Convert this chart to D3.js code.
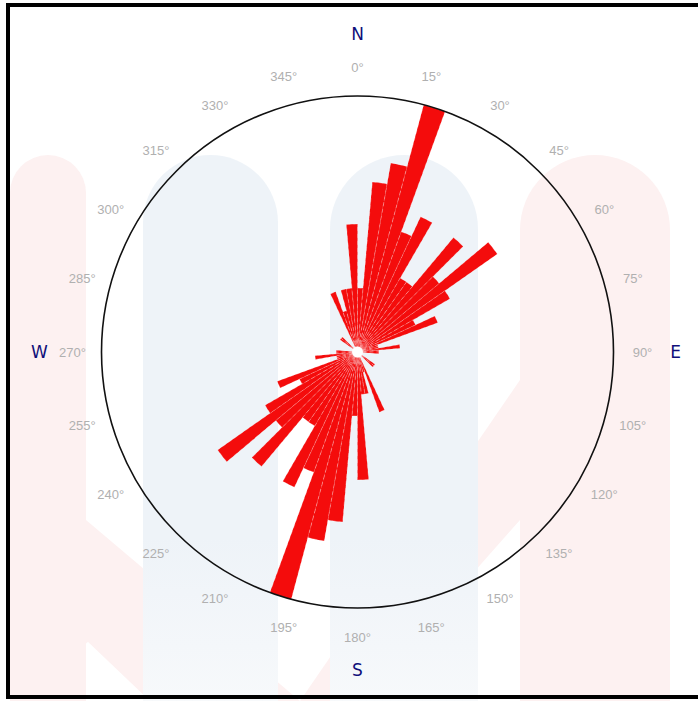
<!DOCTYPE html>
<html>
<head>
<meta charset="utf-8">
<script src="https://cdn.jsdelivr.net/npm/d3@7"></script>
<style>
  html, body { margin: 0; padding: 0; background: #fff; }
  svg { display: block; }
</style>
</head>
<body>
<svg id="chart" width="698" height="701"></svg>
<script>
// Azimuth bins (start of each 5° sector, clockwise from north)
const binStarts = [
  0, 5, 10, 15, 20, 25, 30, 35, 40, 45, 50, 55,
  60, 65, 70, 75, 80, 85, 90, 95, 100, 105, 110, 115,
  120, 125, 130, 135, 140, 145, 150, 155, 160, 165, 170, 175,
  180, 185, 190, 195, 200, 205, 210, 215, 220, 225, 230, 235,
  240, 245, 250, 255, 260, 265, 270, 275, 280, 285, 290, 295,
  300, 305, 310, 315, 320, 325, 330, 335, 340, 345, 350, 355
];
// Number of measurements in each sector
const counts = [
  3, 8, 9, 12, 6, 7, 4, 4, 7, 5, 8, 5,
  3, 4, 1, 1, 2, 1, 1, 0, 0, 0, 0, 0,
  0, 1, 1, 0, 0, 0, 0, 3, 1, 2, 2, 6,
  3, 8, 9, 12, 6, 7, 4, 4, 7, 5, 8, 5,
  3, 4, 1, 1, 2, 1, 1, 0, 0, 0, 0, 0,
  0, 1, 1, 0, 0, 0, 0, 3, 2, 3, 3, 6
];
const binWidth = 5;
const maxCount = 12;

// Compass ring labels
const degreeTicks = [0, 15, 30, 45, 60, 75, 90, 105, 120, 135, 150, 165,
                     180, 195, 210, 225, 240, 255, 270, 285, 300, 315, 330, 345];
const degreeLabels = ["0°", "15°", "30°", "45°", "60°", "75°", "90°", "105°", "120°", "135°", "150°", "165°",
                      "180°", "195°", "210°", "225°", "240°", "255°", "270°", "285°", "300°", "315°", "330°", "345°"];
const cardinalAngles = [0, 90, 180, 270];
const cardinalLabels = ["N", "E", "S", "W"];

const svg = d3.select("#chart");
const cx = 357.5, cy = 352, R = 256;

// faint background emblem
const defs = svg.append("defs");
const fade = defs.append("linearGradient").attr("id", "blueFade")
  .attr("x1", 0).attr("y1", 0).attr("x2", 0).attr("y2", 1);
fade.append("stop").attr("offset", "0%").attr("stop-color", "#eef3f8");
fade.append("stop").attr("offset", "70%").attr("stop-color", "#eef3f8");
fade.append("stop").attr("offset", "100%").attr("stop-color", "#f7f9fb");

const bg = svg.append("g");
function archPath(x0, x1, yTop, yBottom) {
  const rr = (x1 - x0) / 2;
  return `M${x0},${yBottom} L${x0},${yTop + rr} A${rr},${rr} 0 0 1 ${x1},${yTop + rr} L${x1},${yBottom} Z`;
}
const pink = "#fdf1f1";
bg.append("path").attr("d", archPath(10, 86, 155, 701)).attr("fill", pink);
bg.append("path").attr("d", archPath(520, 670, 155, 701)).attr("fill", pink);
bg.append("path").attr("d", "M10,470 L130,610 L10,701 Z").attr("fill", pink);
bg.append("path").attr("d", "M86,520 L300,701 L150,701 L86,640 Z").attr("fill", pink);
bg.append("path").attr("d", "M520,380 L520,520 L360,701 L300,701 Z").attr("fill", pink);
bg.append("path").attr("d", archPath(143, 278, 155, 701)).attr("fill", "url(#blueFade)");
bg.append("path").attr("d", archPath(330, 478, 155, 701)).attr("fill", "url(#blueFade)");

const g = svg.append("g").attr("transform", `translate(${cx},${cy})`);

const r = d3.scaleLinear().domain([0, maxCount]).range([0, R]);
const toRad = d => d * Math.PI / 180;

const arc = d3.arc()
  .innerRadius(0)
  .outerRadius(d => r(d.count))
  .startAngle(d => toRad(d.start))
  .endAngle(d => toRad(d.start + binWidth));

const bins = binStarts.map((s, i) => ({ start: s, count: counts[i] })).filter(d => d.count > 0);

g.append("g").selectAll("path")
  .data(bins)
  .join("path")
  .attr("d", arc)
  .attr("fill", "#f40c0c")
  .attr("stroke", "rgba(255,255,255,0.45)")
  .attr("stroke-width", 0.6)
  .attr("stroke-dasharray", "4,3");

// central hole
g.append("circle").attr("r", 5.5).attr("fill", "#fff");

// outer ring
g.append("circle").attr("r", R).attr("fill", "none").attr("stroke", "#111").attr("stroke-width", 1.6);

// degree labels
const labelR = 285;
g.append("g").selectAll("text")
  .data(degreeTicks)
  .join("text")
  .attr("x", d => labelR * Math.sin(toRad(d)))
  .attr("y", d => -labelR * Math.cos(toRad(d)))
  .attr("text-anchor", "middle")
  .attr("dominant-baseline", "central")
  .attr("font-family", "'Liberation Sans', Arial, sans-serif")
  .attr("font-size", 13)
  .attr("fill", "#b0b0b0")
  .text((d, i) => degreeLabels[i]);

// cardinal directions
const cardR = 318;
g.append("g").selectAll("text")
  .data(cardinalAngles)
  .join("text")
  .attr("x", d => cardR * Math.sin(toRad(d)))
  .attr("y", d => -cardR * Math.cos(toRad(d)))
  .attr("text-anchor", "middle")
  .attr("dominant-baseline", "central")
  .attr("font-family", "'DejaVu Sans', Verdana, sans-serif")
  .attr("font-size", 17)
  .attr("fill", "#10107a")
  .text((d, i) => cardinalLabels[i]);

// frame
svg.append("rect")
  .attr("x", 8).attr("y", 5)
  .attr("width", 700).attr("height", 692)
  .attr("fill", "none")
  .attr("stroke", "#000")
  .attr("stroke-width", 4);
</script>
</body>
</html>
